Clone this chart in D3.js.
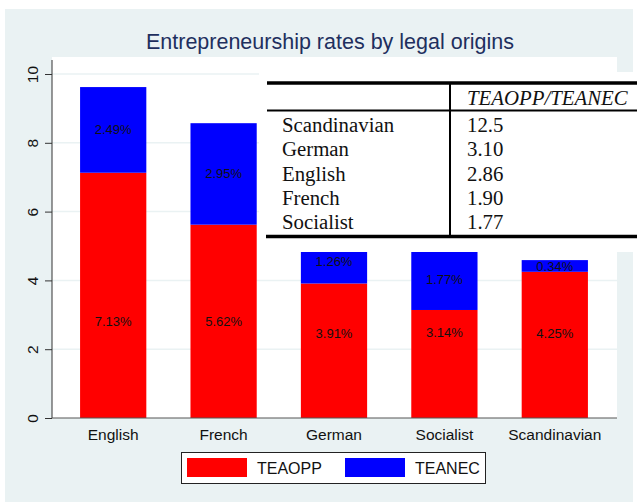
<!DOCTYPE html>
<html lang="en">
<head>
  <meta charset="UTF-8">
  <title>Entrepreneurship rates by legal origins</title>
  <script src="https://d3js.org/d3.v7.min.js"></script>
  <style>
    body { margin: 0; background: #fff; }
    svg { display: block; font-family: "Liberation Sans", Arial, sans-serif; }
    .tbl { font-family: "Liberation Serif", "Times New Roman", serif; font-size: 20.8px; fill: #111; }
  </style>
</head>
<body>
  <svg width="637" height="502"></svg>
  <script>
    const origins = ["English", "French", "German", "Socialist", "Scandinavian"];
    const teaopp = [7.13, 5.62, 3.91, 3.14, 4.25];
    const teanec = [2.49, 2.95, 1.26, 1.77, 0.34];
    // height (axis units) where the TEAOPP labels sit in the source
    const teaoppLabelAt = [2.82, 2.82, 2.47, 2.5, 2.47];
    const yTicks = [0, 2, 4, 6, 8, 10];

    const tableRows = ["Scandinavian", "German", "English", "French", "Socialist"];
    const tableRatios = ["12.5", "3.10", "2.86", "1.90", "1.77"];

    const svg = d3.select("svg");
    const bg = "#eaf2f3";
    const plot = {left: 52, right: 617, top: 57, bottom: 418};

    svg.append("rect").attr("x", 5).attr("y", 9).attr("width", 628).attr("height", 493).attr("fill", bg);
    svg.append("rect").attr("x", plot.left).attr("y", plot.top)
      .attr("width", plot.right - plot.left).attr("height", plot.bottom - plot.top).attr("fill", "#fff");

    svg.append("text").attr("x", 330).attr("y", 49).attr("text-anchor", "middle")
      .attr("font-size", 21.5).attr("fill", "#1e2f5e").text("Entrepreneurship rates by legal origins");

    const x = d3.scaleBand().domain(origins).range([58, 610]).paddingInner(0.4).paddingOuter(0.2);
    const y = d3.scaleLinear().domain([0, 10]).range([plot.bottom, 74]);

    // gridlines
    svg.append("g").selectAll("line").data(yTicks.filter(d => d > 0)).enter().append("line")
      .attr("x1", plot.left).attr("x2", plot.right)
      .attr("y1", d => y(d)).attr("y2", d => y(d))
      .attr("stroke", bg).attr("stroke-width", 1.5);

    const data = origins.map((o, i) => ({origin: o, teaopp: teaopp[i], teanec: teanec[i]}));
    const stacked = d3.stack().keys(["teaopp", "teanec"])(data);
    const colors = {teaopp: "#ff0000", teanec: "#0000ff"};

    svg.append("g").selectAll("g").data(stacked).enter().append("g")
      .attr("fill", d => colors[d.key])
      .selectAll("rect").data(d => d).enter().append("rect")
      .attr("x", d => x(d.data.origin))
      .attr("width", x.bandwidth())
      .attr("y", d => y(d[1]))
      .attr("height", d => y(d[0]) - y(d[1]));

    // bar labels
    const lbl = svg.append("g").attr("font-size", 13).attr("fill", "#111").attr("text-anchor", "middle");
    data.forEach((d, i) => {
      lbl.append("text").attr("x", x(d.origin) + x.bandwidth() / 2)
        .attr("y", y(teaoppLabelAt[i])).attr("dy", "0.35em").text(d.teaopp.toFixed(2) + "%");
      lbl.append("text").attr("x", x(d.origin) + x.bandwidth() / 2)
        .attr("y", y(d.teaopp + d.teanec / 2)).attr("dy", "0.35em").text(d.teanec.toFixed(2) + "%");
    });

    // y axis
    const yAxis = svg.append("g").attr("transform", `translate(${plot.left},0)`)
      .call(d3.axisLeft(y).tickValues(yTicks).tickSize(7).tickSizeOuter(0));
    yAxis.select(".domain").attr("stroke", "#333").attr("d", `M0,${plot.bottom}V${74 - 14}`);
    yAxis.selectAll(".tick line").attr("stroke", "#333");
    yAxis.selectAll(".tick text").attr("font-size", 15.5).attr("fill", "#111")
      .attr("text-anchor", "middle").attr("x", 0).attr("dy", 0)
      .attr("transform", "translate(-14,0) rotate(-90)");

    // x axis
    const xAxis = svg.append("g").attr("transform", `translate(0,${plot.bottom})`)
      .call(d3.axisBottom(x).tickSize(0).tickPadding(11));
    xAxis.select(".domain").attr("stroke", "#555").attr("d", `M${plot.left},0H${plot.right}`);
    xAxis.selectAll(".tick text").attr("font-size", 15.5).attr("fill", "#111");

    // legend
    const leg = svg.append("g");
    leg.append("rect").attr("x", 181.5).attr("y", 452.5).attr("width", 304).attr("height", 31)
      .attr("fill", "#fff").attr("stroke", "#222");
    const legItems = [["TEAOPP", colors.teaopp, 187], ["TEANEC", colors.teanec, 345]];
    legItems.forEach(([name, c, lx]) => {
      leg.append("rect").attr("x", lx).attr("y", 458).attr("width", 60).attr("height", 19).attr("fill", c);
      leg.append("text").attr("x", lx + 70).attr("y", 473.5).attr("font-size", 16).attr("fill", "#111").text(name);
    });

    // inset table
    const tbl = svg.append("g");
    tbl.append("rect").attr("x", 259).attr("y", 72).attr("width", 378).attr("height", 180).attr("fill", "#fff");
    tbl.append("line").attr("x1", 267).attr("x2", 637).attr("y1", 83).attr("y2", 83).attr("stroke", "#000").attr("stroke-width", 3.5);
    tbl.append("line").attr("x1", 267).attr("x2", 637).attr("y1", 110.5).attr("y2", 110.5).attr("stroke", "#000").attr("stroke-width", 2);
    tbl.append("line").attr("x1", 266).attr("x2", 637).attr("y1", 236.5).attr("y2", 236.5).attr("stroke", "#000").attr("stroke-width", 3.5);
    tbl.append("line").attr("x1", 450).attr("x2", 450).attr("y1", 83).attr("y2", 236.5).attr("stroke", "#000").attr("stroke-width", 2);
    tbl.append("text").attr("class", "tbl").attr("x", 467).attr("y", 104.5).attr("font-style", "italic").text("TEAOPP/TEANEC");
    tableRows.forEach((r, i) => {
      const by = 132 + i * 24.3;
      tbl.append("text").attr("class", "tbl").attr("x", 282).attr("y", by).text(r);
      tbl.append("text").attr("class", "tbl").attr("x", 467).attr("y", by).text(tableRatios[i]);
    });
  </script>
</body>
</html>
